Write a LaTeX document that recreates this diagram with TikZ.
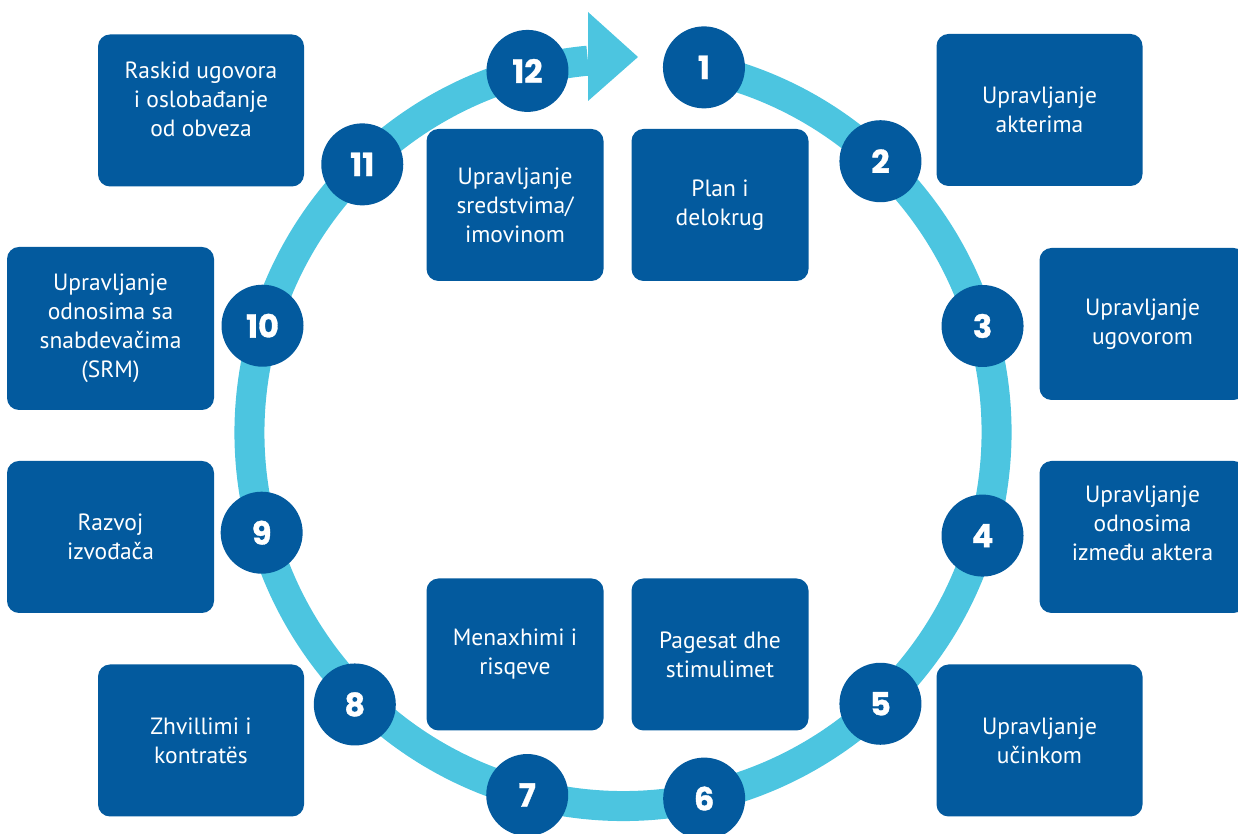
\documentclass[tikz,border=0pt]{standalone}
\usepackage{fontspec}
\usetikzlibrary{calc}
\setmainfont{PT Sans}
\newfontfamily\numfont{Poppins}[BoldFeatures={FakeBold=1}]
\definecolor{ringblue}{HTML}{4CC5E0}
\definecolor{darkblue}{HTML}{035A9E}
\begin{document}
\begin{tikzpicture}[x=1pt,y=1pt,
  box/.style={fill=darkblue, rounded corners=12pt, inner sep=0pt,
    text=white, align=center, font=\fontsize{23.5}{29}\selectfont},
  widebox/.style={box, minimum width=206pt, minimum height=152pt},
  narrowbox/.style={box, minimum width=177pt, minimum height=152pt},
  boxtext/.style={text=white, align=center, inner sep=0pt,
    font=\fontsize{23.5}{29}\selectfont},
  numdot/.style={circle, fill=darkblue, minimum size=82pt, inner sep=0pt,
    text=white, font=\numfont\bfseries\fontsize{32}{32}\selectfont}]
\useasboundingbox (0,0) rectangle (1238,834);
\clip (0,0) rectangle (1238,834);

% centre of the cycle ring
\coordinate (c) at (623,401.5);

% the ring, open between step 12 and step 1, ending in an arrow
\draw[ringblue, line width=30pt] (c) ++(77.5:373.5)
  arc[start angle=77.5, end angle=-264.6, radius=373.5];
\fill[ringblue] (588,822) -- (638,777) -- (588,733) -- cycle;

% outer boxes
\node[widebox] (b11) at (201,723.5) {};
\node[boxtext] (t11) at (201,735) {Raskid ugovora\\i oslobađanje\\od obveza};
\node[widebox] (b2) at (1039.5,724) {Upravljanje\\akterima};
\node[widebox, minimum width=207pt, minimum height=163pt] (b10) at (110.5,505.5)
  {Upravljanje\\odnosima sa\\snabdevačima\\(SRM)};
\node[widebox] (b3) at (1142.5,510) {Upravljanje\\ugovorom};
\node[widebox, minimum width=207pt] (b9) at (110.5,297) {Razvoj\\izvođača};
\node[widebox] (b4) at (1142.5,297) {};
\node[boxtext] (t4) at (1142.5,311) {Upravljanje\\odnosima\\između aktera};
\node[widebox] (b8) at (201,93.5) {Zhvillimi i\\kontratës};
\node[widebox] (b5) at (1039.5,93.5) {Upravljanje\\učinkom};

% inner boxes
\node[narrowbox] (bs) at (515,629) {Upravljanje\\sredstvima/\\imovinom};
\node[narrowbox] (bp) at (720,629) {Plan i\\delokrug};
\node[narrowbox] (bm) at (515,179.5) {Menaxhimi i\\risqeve};
\node[narrowbox] (bg) at (720,179.5) {Pagesat dhe\\stimulimet};

% numbered steps on the ring
\node[numdot] (n1)  at ($(c)+(77.5:374)$)   {1};
\node[numdot] (n2)  at ($(c)+(46.5:374)$)   {2};
\node[numdot] (n3)  at ($(c)+(16.5:375)$)   {3};
\node[numdot] (n4)  at ($(c)+(-16:374)$)    {4};
\node[numdot] (n5)  at ($(c)+(-46.5:374)$)  {5};
\node[numdot] (n6)  at ($(c)+(-77.5:375)$)  {6};
\node[numdot] (n7)  at ($(c)+(-104.8:375)$) {7};
\node[numdot] (n8)  at ($(c)+(-134.6:382)$) {8};
\node[numdot] (n9)  at ($(c)+(-164.5:375)$) {9};
\node[numdot] (n10) at ($(c)+(163.5:376)$)  {10};
\node[numdot] (n11) at ($(c)+(134.2:374)$)  {11};
\node[numdot] (n12) at ($(c)+(104.8:374)$)  {12};
\end{tikzpicture}
\end{document}
